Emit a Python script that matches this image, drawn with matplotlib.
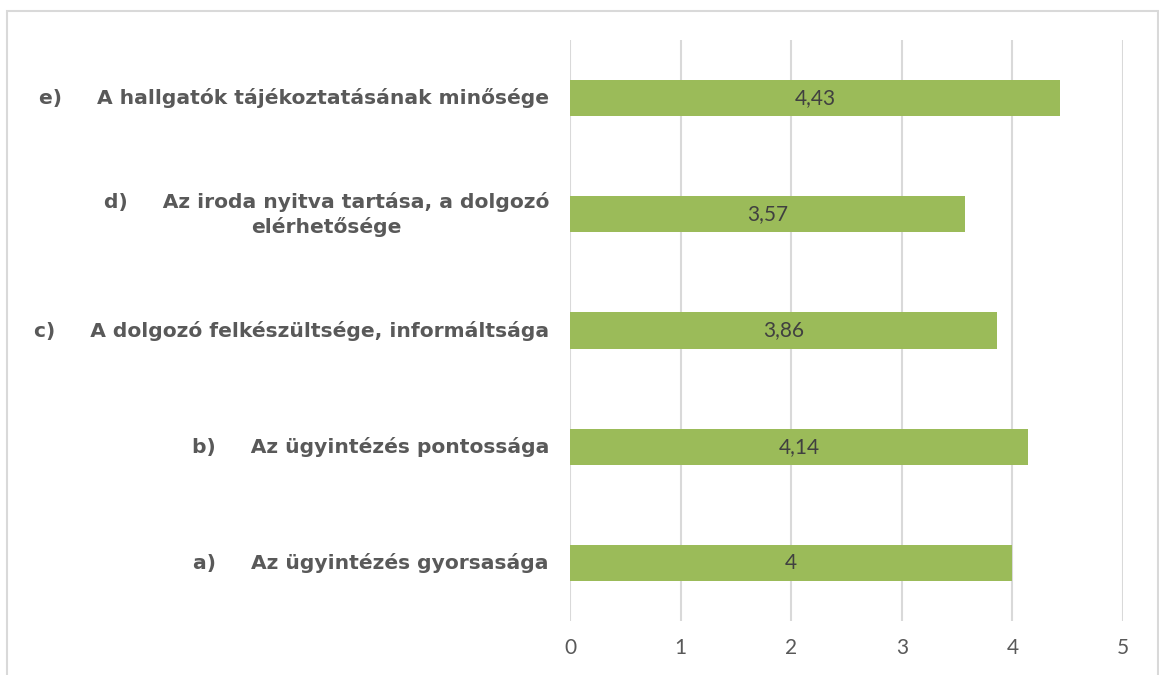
#!/usr/bin/env python3
"""Horizontal bar chart: satisfaction scores (1-5) for the office service."""

import matplotlib

matplotlib.use("Agg")
import matplotlib.pyplot as plt
from matplotlib.patches import Rectangle

# bottom to top
LETTERS = ["a)", "b)", "c)", "d)", "e)"]
ITEMS = [
    "Az ügyintézés gyorsasága",
    "Az ügyintézés pontossága",
    "A dolgozó felkészültsége, informáltsága",
    "Az iroda nyitva tartása, a dolgozó\nelérhetősége",
    "A hallgatók tájékoztatásának minősége",
]
VALUES = [4.0, 4.14, 3.86, 3.57, 4.43]
VALUE_TEXT = ["4", "4,14", "3,86", "3,57", "4,43"]
XTICKS = [0, 1, 2, 3, 4, 5]

GREEN = "#9BBB59"
GRID = "#D9D9D9"
LABEL_C = "#595959"
VALUE_C = "#404040"

W, H = 1159, 675
fig = plt.figure(figsize=(W / 100, H / 100), dpi=100)
ax = fig.add_axes([570 / W, 1 - 621 / H, (1123 - 570) / W, (621 - 40) / H])

ypos = list(range(len(VALUES)))
ax.barh(ypos, VALUES, height=0.31, color=GREEN, zorder=3)

for y, v, txt in zip(ypos, VALUES, VALUE_TEXT):
    ax.text(v / 2, y, txt, ha="center", va="center", fontsize=15,
            family="Lato", color=VALUE_C, zorder=4)

ax.set_xlim(0, 5)
ax.set_ylim(-0.5, 4.5)
ax.set_xticks(XTICKS)
ax.set_xticklabels([str(t) for t in XTICKS], family="Lato", fontsize=15, color=LABEL_C)
ax.tick_params(axis="x", length=0, pad=12)
ax.set_yticks([])
ax.grid(axis="x", color=GRID, lw=1.5, zorder=0)
for s in ax.spines.values():
    s.set_visible(False)

# category labels, right-aligned next to the axis
for y, letter, item in zip(ypos, LETTERS, ITEMS):
    lines = item.split("\n")
    first = f"{letter}     {lines[0]}"
    label = "\n".join([first] + lines[1:])
    ax.text(-0.19, y, label, transform=ax.transData, ha="right", va="center",
            multialignment="center", fontsize=14.6, fontweight="bold",
            family="DejaVu Sans", color=LABEL_C, linespacing=1.3)

# light frame around the chart (bottom edge is cut off in the original)
fig.patches.append(Rectangle((7 / W, -0.05), (1158 - 7) / W, 1.05 - 11 / H,
                             transform=fig.transFigure, fill=False,
                             edgecolor=GRID, lw=1.5))

fig.savefig("out.png", dpi=100)
